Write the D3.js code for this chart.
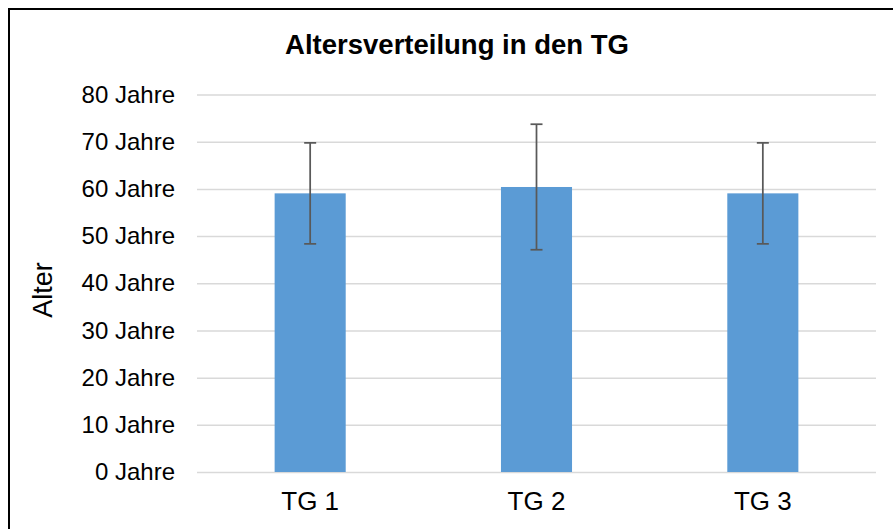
<!DOCTYPE html>
<html><head><meta charset="utf-8">
<script src="https://cdn.jsdelivr.net/npm/d3@7"></script>
<style>html,body{margin:0;padding:0;background:#fff;}svg{display:block;}</style>
</head><body>
<svg id="chart" width="893" height="529"></svg>
<script>
const categories = ["TG 1", "TG 2", "TG 3"];
const meanAge = [59.05, 60.4, 59.05];
const sdAge = [10.7, 13.3, 10.7];
const yTicks = [0, 10, 20, 30, 40, 50, 60, 70, 80];
const title = "Altersverteilung in den TG";
const yTitle = "Alter";

const svg = d3.select("#chart");
const W = 893, H = 529;
const m = {left: 197, right: 876, top: 94.5, bottom: 472};
const font = "Liberation Sans, Arial, sans-serif";

svg.append("rect").attr("x", 0).attr("y", 0).attr("width", W).attr("height", H).attr("fill", "#fff");
svg.append("rect").attr("x", 9).attr("y", 9).attr("width", W + 20).attr("height", H + 20)
  .attr("fill", "none").attr("stroke", "#000").attr("stroke-width", 2);

const x = d3.scaleBand().domain(categories).range([m.left, m.right]).paddingInner(0.686).paddingOuter(0.343);
const y = d3.scaleLinear().domain([0, 80]).range([m.bottom, m.top]);

// gridlines + tick labels
const yAxis = d3.axisLeft(y).tickValues(yTicks).tickSize(-(m.right - m.left)).tickPadding(22)
  .tickFormat(d => d + " Jahre");
const gy = svg.append("g").attr("transform", `translate(${m.left},0)`).call(yAxis);
gy.select(".domain").remove();
gy.selectAll(".tick line").attr("stroke", "#d9d9d9").attr("stroke-width", 1.5);
gy.selectAll(".tick text").attr("fill", "#000").style("font-family", font).style("font-size", "24px");

// bars
svg.append("g").selectAll("rect").data(categories).join("rect")
  .attr("x", d => x(d)).attr("width", x.bandwidth())
  .attr("y", (d, i) => y(meanAge[i])).attr("height", (d, i) => y(0) - y(meanAge[i]))
  .attr("fill", "#5b9bd5");

// error bars
const eb = svg.append("g").attr("stroke", "#595959").attr("stroke-width", 1.75);
categories.forEach((c, i) => {
  const cx = x(c) + x.bandwidth() / 2;
  const hi = y(meanAge[i] + sdAge[i]), lo = y(meanAge[i] - sdAge[i]);
  eb.append("line").attr("x1", cx).attr("x2", cx).attr("y1", hi).attr("y2", lo);
  eb.append("line").attr("x1", cx - 6).attr("x2", cx + 6).attr("y1", hi).attr("y2", hi);
  eb.append("line").attr("x1", cx - 6).attr("x2", cx + 6).attr("y1", lo).attr("y2", lo);
});

// x axis labels
const xAxis = d3.axisBottom(x).tickSize(0).tickPadding(20);
const gx = svg.append("g").attr("transform", `translate(0,${m.bottom})`).call(xAxis);
gx.select(".domain").remove();
gx.selectAll(".tick text").attr("fill", "#000").style("font-family", font).style("font-size", "26px");

// title
svg.append("text").attr("x", 457).attr("y", 54).attr("text-anchor", "middle")
  .style("font-family", font).style("font-size", "27.5px").style("font-weight", "bold").text(title);

// y title
svg.append("text").attr("transform", "translate(52,290) rotate(-90)").attr("text-anchor", "middle")
  .style("font-family", font).style("font-size", "27px").text(yTitle);
</script>
</body></html>
